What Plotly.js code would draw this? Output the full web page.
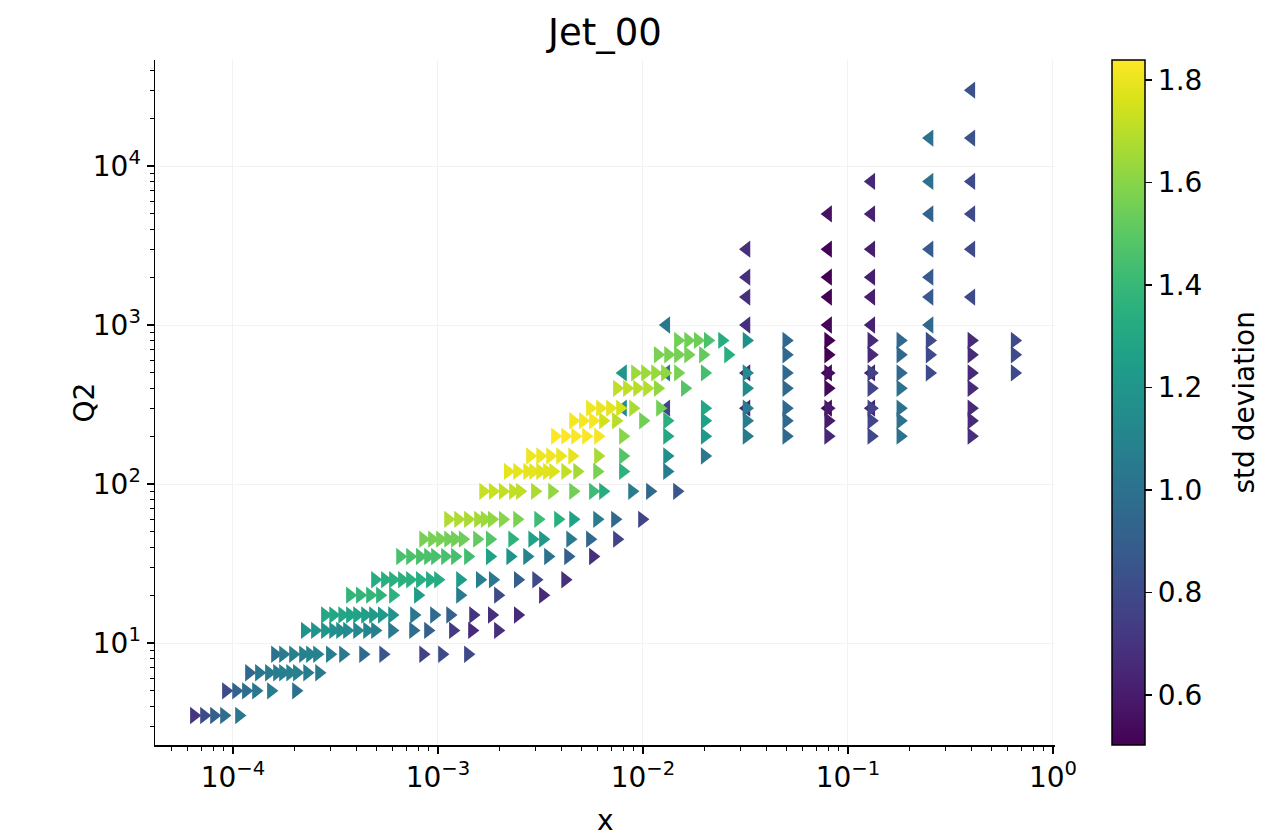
<!DOCTYPE html>
<html>
<head>
<meta charset="utf-8">
<script src="https://cdn.plot.ly/plotly-3.0.1.min.js"></script>
<style>html,body{margin:0;padding:0;background:#fff;}#chart{width:1275px;height:839px;}</style>
</head>
<body>
<div id="chart"></div>
<script>
// Q2 rows of the right-pointing series
const q2Rows = [3.5, 5, 6.5, 8.5, 12, 15, 20, 25, 35, 45, 60, 90, 120, 150, 200, 250, 300, 400, 500, 650, 800];

const xByRow = [
  [6.45e-5, 7.22e-5, 8.08e-5, 9.04e-5, 1.07e-4],
  [9.24e-5, 1.035e-4, 1.157e-4, 1.295e-4, 1.532e-4, 2.03e-4],
  [1.197e-4, 1.339e-4, 1.498e-4, 1.64e-4, 1.754e-4, 1.90e-4, 2.05e-4, 2.30e-4, 2.63e-4],
  [1.603e-4, 1.754e-4, 1.963e-4, 2.196e-4, 2.375e-4, 2.57e-4, 2.97e-4, 3.44e-4, 4.31e-4, 5.40e-4, 8.46e-4, 1.046e-3, 1.40e-3],
  [2.24e-4, 2.51e-4, 2.81e-4, 3.08e-4, 3.33e-4, 3.60e-4, 4.03e-4, 4.51e-4, 4.93e-4, 5.97e-4, 7.56e-4, 8.94e-4, 1.183e-3, 1.465e-3, 1.96e-3],
  [2.81e-4, 3.08e-4, 3.41e-4, 3.72e-4, 4.03e-4, 4.41e-4, 4.82e-4, 5.32e-4, 5.97e-4, 7.64e-4, 9.56e-4, 1.146e-3, 1.483e-3, 1.83e-3, 2.45e-3],
  [3.72e-4, 4.16e-4, 4.66e-4, 5.21e-4, 6.03e-4, 7.98e-4, 1.28e-3, 1.96e-3, 3.25e-3],
  [4.93e-4, 5.51e-4, 6.03e-4, 6.67e-4, 7.30e-4, 8.16e-4, 9.13e-4, 1.0e-3, 1.28e-3, 1.60e-3, 1.85e-3, 2.45e-3, 3.01e-3, 4.17e-3],
  [6.53e-4, 7.30e-4, 8.16e-4, 8.94e-4, 9.67e-4, 1.082e-3, 1.21e-3, 1.40e-3, 1.79e-3, 2.25e-3, 2.72e-3, 3.44e-3, 4.31e-3, 5.70e-3],
  [8.46e-4, 9.35e-4, 1.023e-3, 1.12e-3, 1.21e-3, 1.32e-3, 1.55e-3, 1.79e-3, 2.30e-3, 2.88e-3, 3.25e-3, 4.41e-3, 5.51e-3, 7.46e-3],
  [1.12e-3, 1.253e-3, 1.40e-3, 1.567e-3, 1.69e-3, 1.83e-3, 2.07e-3, 2.43e-3, 3.08e-3, 3.85e-3, 4.56e-3, 5.97e-3, 7.30e-3, 9.89e-3],
  [1.66e-3, 1.85e-3, 2.07e-3, 2.32e-3, 2.51e-3, 2.97e-3, 3.60e-3, 4.56e-3, 5.70e-3, 6.38e-3, 8.84e-3, 1.081e-2, 1.465e-2],
  [2.19e-3, 2.43e-3, 2.72e-3, 2.91e-3, 3.15e-3, 3.40e-3, 3.64e-3, 4.17e-3, 4.77e-3, 5.97e-3, 7.98e-3, 1.31e-2],
  [2.81e-3, 3.15e-3, 3.52e-3, 3.94e-3, 4.51e-3, 6.03e-3, 7.98e-3, 1.31e-2, 2.0e-2],
  [3.72e-3, 4.17e-3, 4.66e-3, 5.27e-3, 6.03e-3, 7.98e-3, 1.31e-2, 2.0e-2, 0.032, 0.05, 0.08, 0.13, 0.18, 0.40],
  [4.56e-3, 5.09e-3, 5.70e-3, 6.38e-3, 7.38e-3, 1.0e-2, 1.31e-2, 2.0e-2, 0.032, 0.05, 0.08, 0.13, 0.18, 0.40],
  [5.51e-3, 6.17e-3, 6.90e-3, 7.72e-3, 8.94e-3, 1.21e-2, 2.0e-2, 0.032, 0.05, 0.08, 0.13, 0.18, 0.40],
  [7.46e-3, 8.35e-3, 9.35e-3, 1.046e-2, 1.18e-2, 1.60e-2, 0.032, 0.05, 0.08, 0.13, 0.18, 0.40],
  [9.14e-3, 1.023e-2, 1.145e-2, 1.28e-2, 1.48e-2, 2.0e-2, 0.032, 0.05, 0.08, 0.13, 0.18, 0.25, 0.40, 0.65],
  [1.18e-2, 1.325e-2, 1.48e-2, 1.66e-2, 1.96e-2, 2.60e-2, 0.05, 0.08, 0.13, 0.18, 0.25, 0.40, 0.65],
  [1.48e-2, 1.66e-2, 1.85e-2, 2.07e-2, 2.43e-2, 0.032, 0.05, 0.08, 0.13, 0.18, 0.25, 0.40, 0.65]
];

const stdByRow = [
  [0.70, 0.81, 0.90, 0.97, 1.03],
  [0.80, 0.92, 0.98, 1.03, 1.05, 1.00],
  [0.94, 1.02, 1.04, 1.06, 1.07, 1.08, 1.08, 1.06, 1.04],
  [1.00, 1.06, 1.08, 1.08, 1.09, 1.09, 1.07, 1.04, 0.96, 0.86, 0.76, 0.80, 0.79],
  [1.18, 1.19, 1.19, 1.17, 1.15, 1.14, 1.12, 1.10, 1.08, 1.04, 0.98, 0.90, 0.73, 0.66, 0.68],
  [1.30, 1.30, 1.29, 1.28, 1.27, 1.25, 1.23, 1.21, 1.18, 1.03, 0.96, 0.91, 0.70, 0.68, 0.66],
  [1.38, 1.38, 1.38, 1.37, 1.36, 1.24, 1.06, 0.80, 0.66],
  [1.33, 1.34, 1.35, 1.35, 1.35, 1.34, 1.33, 1.32, 1.24, 1.07, 1.04, 0.90, 0.80, 0.68],
  [1.45, 1.46, 1.46, 1.46, 1.45, 1.45, 1.44, 1.43, 1.27, 1.18, 1.10, 1.00, 0.90, 0.68],
  [1.56, 1.56, 1.56, 1.55, 1.55, 1.54, 1.52, 1.48, 1.36, 1.27, 1.22, 1.04, 0.95, 0.77],
  [1.68, 1.68, 1.67, 1.66, 1.64, 1.62, 1.60, 1.57, 1.42, 1.35, 1.27, 1.05, 0.95, 0.77],
  [1.73, 1.73, 1.72, 1.72, 1.71, 1.67, 1.62, 1.55, 1.42, 1.33, 1.05, 0.95, 0.86],
  [1.79, 1.79, 1.79, 1.79, 1.78, 1.78, 1.77, 1.72, 1.66, 1.57, 1.36, 1.07],
  [1.81, 1.81, 1.81, 1.80, 1.79, 1.67, 1.48, 1.17, 1.04],
  [1.84, 1.84, 1.83, 1.83, 1.82, 1.60, 1.30, 1.22, 1.04, 0.95, 0.64, 0.79, 1.00, 0.68],
  [1.82, 1.82, 1.82, 1.75, 1.70, 1.55, 1.35, 1.26, 1.05, 0.95, 0.60, 0.77, 1.00, 0.66],
  [1.81, 1.80, 1.79, 1.76, 1.67, 1.55, 1.30, 1.06, 0.95, 0.60, 0.77, 1.00, 0.66],
  [1.71, 1.71, 1.70, 1.69, 1.62, 1.48, 1.14, 0.95, 0.53, 0.77, 1.00, 0.66],
  [1.64, 1.64, 1.63, 1.62, 1.57, 1.44, 1.15, 0.95, 0.55, 0.76, 0.95, 0.80, 0.66, 0.80],
  [1.57, 1.57, 1.56, 1.56, 1.52, 1.35, 0.95, 0.50, 0.66, 0.95, 0.80, 0.66, 0.80],
  [1.55, 1.55, 1.54, 1.46, 1.33, 1.17, 0.95, 0.50, 0.66, 0.95, 0.80, 0.66, 0.80]
];

// left-pointing series
const leftX   = [0.008, 0.008, 0.013, 0.013, 0.013, 0.032, 0.032, 0.032, 0.032, 0.032, 0.032,
                 0.08, 0.08, 0.08, 0.08, 0.08, 0.08, 0.08,
                 0.13, 0.13, 0.13, 0.13, 0.13, 0.13, 0.13, 0.13,
                 0.25, 0.25, 0.25, 0.25, 0.25, 0.25, 0.25,
                 0.40, 0.40, 0.40, 0.40, 0.40, 0.40];
const leftQ2  = [300, 500, 300, 500, 1000, 300, 500, 1000, 1500, 2000, 3000,
                 300, 500, 1000, 1500, 2000, 3000, 5000,
                 300, 500, 1000, 1500, 2000, 3000, 5000, 8000,
                 1000, 1500, 2000, 3000, 5000, 8000, 15000,
                 1500, 3000, 5000, 8000, 15000, 30000];
const leftStd = [1.15, 1.20, 0.78, 1.02, 1.03, 0.66, 0.66, 0.68, 0.68, 0.68, 0.68,
                 0.52, 0.52, 0.52, 0.50, 0.50, 0.51, 0.56,
                 0.65, 0.62, 0.62, 0.61, 0.61, 0.61, 0.62, 0.65,
                 0.95, 0.88, 0.88, 0.88, 0.92, 1.00, 1.00,
                 0.80, 0.80, 0.80, 0.80, 0.84, 0.84];

const xTickVals = [1e-4, 1e-3, 1e-2, 1e-1, 1];
const xTickText = ['10<sup>\u22124</sup>', '10<sup>\u22123</sup>', '10<sup>\u22122</sup>', '10<sup>\u22121</sup>', '10<sup>0</sup>'];
const yTickVals = [10, 100, 1000, 10000];
const yTickText = ['10<sup>1</sup>', '10<sup>2</sup>', '10<sup>3</sup>', '10<sup>4</sup>'];
const cbTickVals = [0.6, 0.8, 1.0, 1.2, 1.4, 1.6, 1.8];
const cbTickText = ['0.6', '0.8', '1.0', '1.2', '1.4', '1.6', '1.8'];

// minor log ticks (2..9 within each decade)
function minorTicks(lo, hi) {
  const out = [];
  for (let d = lo; d <= hi; d++) for (let k = 2; k <= 9; k++) out.push(k * Math.pow(10, d));
  return out;
}

const rightX = [], rightQ2 = [], rightStd = [];
q2Rows.forEach((q, i) => {
  xByRow[i].forEach((xv, j) => { rightX.push(xv); rightQ2.push(q); rightStd.push(stdByRow[i][j]); });
});

const FONT = 'DejaVu Sans, sans-serif';
const TS = 28;

const traces = [
  {
    type: 'scatter', mode: 'markers', x: leftX, y: leftQ2,
    marker: { symbol: 'triangle-left', size: 15, color: leftStd, coloraxis: 'coloraxis', line: { width: 0 } },
    hoverinfo: 'skip', showlegend: false
  },
  {
    type: 'scatter', mode: 'markers', x: rightX, y: rightQ2,
    marker: { symbol: 'triangle-right', size: 15, color: rightStd, coloraxis: 'coloraxis', line: { width: 0 } },
    hoverinfo: 'skip', showlegend: false
  }
];

const axisCommon = {
  type: 'log', showline: true, linecolor: 'black', linewidth: 1.5, mirror: false,
  ticks: 'outside', ticklen: 7, tickwidth: 1.5, tickcolor: 'black',
  tickmode: 'array', tickfont: { family: FONT, size: TS, color: 'black' },
  showgrid: true, gridcolor: '#f2f2f2', gridwidth: 1, zeroline: false,
  minor: { tickmode: 'array', ticks: 'outside', ticklen: 4, tickwidth: 1, tickcolor: 'black', showgrid: false }
};

const layout = {
  width: 1275, height: 839,
  margin: { l: 155, r: 220, t: 60, b: 94 },
  paper_bgcolor: 'white', plot_bgcolor: 'white',
  font: { family: FONT, color: 'black' },
  title: { text: 'Jet_00', font: { family: FONT, size: 37, color: 'black' }, x: 0.4745, xanchor: 'center', y: 0.962, yanchor: 'middle' },
  xaxis: Object.assign({}, axisCommon, {
    range: [-4.38, 0.0098], tickvals: xTickVals, ticktext: xTickText,
    minor: Object.assign({}, axisCommon.minor, { tickvals: minorTicks(-5, -1) })
  }),
  yaxis: Object.assign({}, axisCommon, {
    range: [0.3585, 4.667], tickvals: yTickVals, ticktext: yTickText,
    minor: Object.assign({}, axisCommon.minor, { tickvals: minorTicks(0, 4) })
  }),
  annotations: [
    { text: 'x', xref: 'paper', yref: 'paper', x: 0.5, y: -0.1095, xanchor: 'center', yanchor: 'middle',
      showarrow: false, font: { family: FONT, size: TS, color: 'black' } },
    { text: 'Q2', xref: 'paper', yref: 'paper', x: -0.0778, y: 0.5, xanchor: 'center', yanchor: 'middle',
      textangle: -90, showarrow: false, font: { family: FONT, size: TS, color: 'black' } },
    { text: 'std deviation', xref: 'paper', yref: 'paper', x: 1.2111, y: 0.5, xanchor: 'center', yanchor: 'middle',
      textangle: -90, showarrow: false, font: { family: FONT, size: TS, color: 'black' } }
  ],
  coloraxis: {
    colorscale: 'Viridis', cmin: 0.502, cmax: 1.839,
    colorbar: {
      x: 1.0633, xanchor: 'left', y: 0.5, yanchor: 'middle',
      len: 1, lenmode: 'fraction', thickness: 33, thicknessmode: 'pixels',
      xpad: 0, ypad: 0, outlinewidth: 1.5, outlinecolor: 'black',
      ticks: 'outside', ticklen: 7, tickwidth: 1.5, tickcolor: 'black',
      tickmode: 'array', tickvals: cbTickVals, ticktext: cbTickText,
      tickfont: { family: FONT, size: TS, color: 'black' }
    }
  }
};

Plotly.newPlot('chart', traces, layout, { displayModeBar: false, staticPlot: true });
</script>
</body>
</html>
